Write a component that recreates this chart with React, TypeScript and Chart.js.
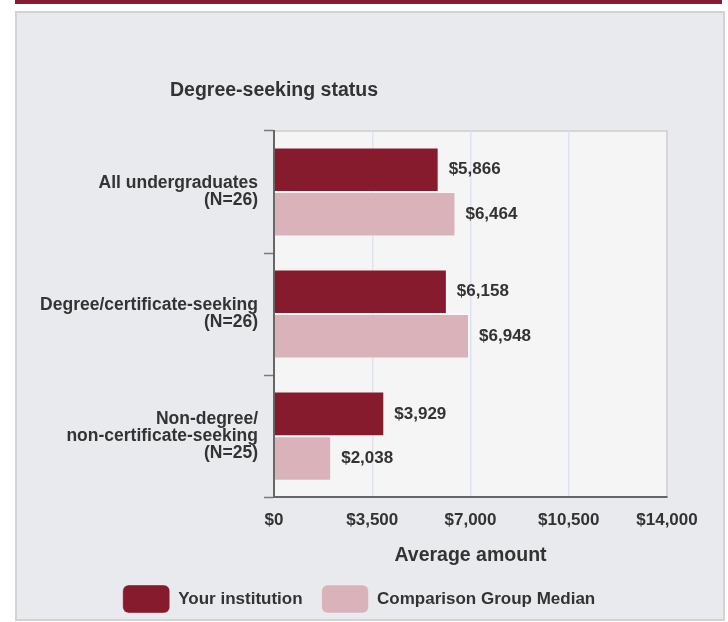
import React, { useEffect, useRef } from "react";
import { Chart, registerables } from "chart.js";

Chart.register(...registerables);

// ---- data ----
const categories: string[][] = [
  ["All undergraduates", "(N=26)"],
  ["Degree/certificate-seeking", "(N=26)"],
  ["Non-degree/", "non-certificate-seeking", "(N=25)"],
];
const seriesNames = ["Your institution", "Comparison Group Median"];
const yourInstitution = [5866, 6158, 3929];
const comparisonMedian = [6464, 6948, 2038];
const xTickValues = [0, 3500, 7000, 10500, 14000];
const chartTitle = "Degree-seeking status";
const xAxisTitle = "Average amount";

// ---- style ----
const FONT = '"Liberation Sans", Arial, Helvetica, sans-serif';
const TEXT = "#333333";
const DARK = "#851b2d";
const LIGHT = "#d9b3b9";
const fmt = (v: number) => "$" + v.toLocaleString("en-US");

export default function App() {
  const ref = useRef<HTMLCanvasElement>(null);

  useEffect(() => {
    if (!ref.current) return;
    Chart.defaults.font.family = FONT;
    Chart.defaults.color = TEXT;

    const plotBg = {
      id: "plotBg",
      beforeDraw(chart: any) {
        const { ctx, chartArea: a } = chart;
        ctx.save();
        ctx.fillStyle = "#f5f5f5";
        ctx.fillRect(a.left, a.top, a.right - a.left, a.bottom - a.top);
        ctx.strokeStyle = "#d6d6d6";
        ctx.lineWidth = 2;
        ctx.beginPath();
        ctx.moveTo(a.left, a.top);
        ctx.lineTo(a.right, a.top);
        ctx.lineTo(a.right, a.bottom);
        ctx.stroke();
        ctx.restore();
      },
    };

    // centre the legend row on the panel rather than on the padded layout box
    const legendShift = {
      id: "legendShift",
      afterLayout(chart: any) {
        const lg = chart.legend;
        if (!lg) return;
        const shift = 359 - (lg.left + lg.right) / 2;
        lg.left += shift;
        lg.right += shift;
      },
    };

    const valueLabels = {
      id: "valueLabels",
      afterDatasetsDraw(chart: any) {
        const { ctx } = chart;
        ctx.save();
        ctx.font = `bold 17px ${FONT}`;
        ctx.fillStyle = TEXT;
        ctx.textAlign = "left";
        ctx.textBaseline = "middle";
        chart.data.datasets.forEach((ds: any, di: number) => {
          const meta = chart.getDatasetMeta(di);
          meta.data.forEach((el: any, i: number) => {
            ctx.fillText(fmt(ds.data[i]), el.x + 10, el.y);
          });
        });
        ctx.restore();
      },
    };

    const topTitle = {
      id: "topTitle",
      afterDraw(chart: any) {
        const { ctx, chartArea: a } = chart;
        ctx.save();
        ctx.font = `bold 19.5px ${FONT}`;
        ctx.fillStyle = TEXT;
        ctx.textAlign = "center";
        ctx.textBaseline = "middle";
        ctx.fillText(chartTitle, a.left, 91);
        ctx.restore();
      },
    };

    const chart = new Chart(ref.current, {
      type: "bar",
      data: {
        labels: categories,
        datasets: [
          {
            label: seriesNames[0],
            data: yourInstitution,
            backgroundColor: DARK,
            borderColor: "rgba(255,255,255,0.35)",
            borderWidth: 1,
            categoryPercentage: 0.73,
            barPercentage: 1.0,
          },
          {
            label: seriesNames[1],
            data: comparisonMedian,
            backgroundColor: LIGHT,
            borderColor: "rgba(255,255,255,0.35)",
            borderWidth: 1,
            categoryPercentage: 0.73,
            barPercentage: 1.0,
          },
        ],
      },
      options: {
        indexAxis: "y",
        animation: false,
        responsive: true,
        maintainAspectRatio: false,
        layout: { padding: { top: 131, left: 24, right: 61, bottom: 4 } },
        plugins: {
          tooltip: { enabled: false },
          title: { display: false },
          legend: {
            position: "bottom",
            maxHeight: 52,
            labels: {
              boxWidth: 47,
              boxHeight: 28,
              useBorderRadius: true,
              borderRadius: 6,
              padding: 19,
              color: TEXT,
              font: { size: 17, weight: "bold", family: FONT },
            },
          },
        },
        scales: {
          x: {
            type: "linear",
            min: xTickValues[0],
            max: xTickValues[xTickValues.length - 1],
            afterBuildTicks: (scale: any) => {
              scale.ticks = xTickValues.map((v) => ({ value: v }));
            },
            grid: {
              drawTicks: false,
              lineWidth: 1.5,
              color: (c: any) =>
                c.index === 0 || c.index === xTickValues.length - 1
                  ? "rgba(0,0,0,0)"
                  : "#dde4ef",
            },
            border: { display: true, color: "#666666", width: 2 },
            ticks: {
              padding: 13,
              color: TEXT,
              font: { size: 17, weight: "bold", family: FONT, lineHeight: 1.2 },
              callback: (v: any) => fmt(Number(v)),
            },
            title: {
              display: true,
              text: xAxisTitle,
              color: TEXT,
              padding: { top: 1, bottom: 0 },
              font: { size: 19.5, weight: "bold", family: FONT, lineHeight: 1.1 },
            },
          },
          y: {
            type: "category",
            z: 1,
            afterFit: (scale: any) => {
              scale.width = 250;
            },
            grid: {
              drawOnChartArea: false,
              drawTicks: true,
              tickLength: 10,
              tickColor: "#7a7a7a",
              tickWidth: 1.5,
              offset: true,
            },
            border: { display: true, color: "#666666", width: 2 },
            ticks: {
              padding: 6,
              color: TEXT,
              font: { size: 17.5, weight: "bold", family: FONT, lineHeight: 0.97 },
            },
          },
        },
      },
      plugins: [plotBg, legendShift, valueLabels, topTitle],
    } as any);

    return () => chart.destroy();
  }, []);

  return (
    <div style={{ position: "absolute", left: 0, top: 0, width: 728, height: 622 }}>
      <div
        style={{
          position: "absolute",
          left: 15,
          top: 0,
          width: 707,
          height: 4,
          background: "#8a1b2f",
        }}
      />
      <div
        style={{
          position: "absolute",
          left: 15,
          top: 11,
          width: 710,
          height: 610,
          boxSizing: "border-box",
          background: "#e9eaee",
          border: "2px solid #d3d3d3",
        }}
      />
      <div style={{ position: "absolute", left: 0, top: 0, width: 728, height: 622 }}>
        <canvas ref={ref} />
      </div>
    </div>
  );
}
